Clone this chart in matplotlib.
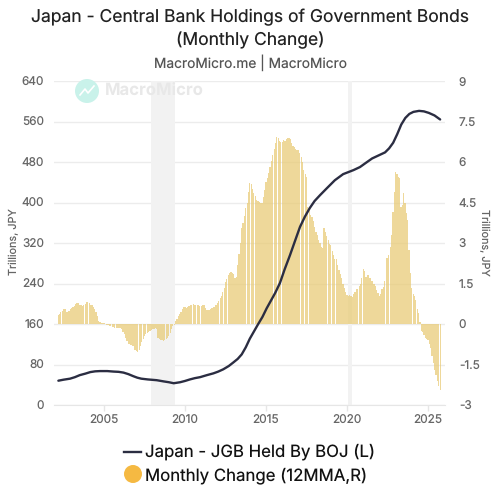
import numpy as np
import matplotlib
matplotlib.use("Agg")
import matplotlib.pyplot as plt
from matplotlib.lines import Line2D
from matplotlib.patches import Circle

plt.rcParams['font.family'] = ['Inter', 'DejaVu Sans']
plt.rcParams['text.hinting'] = 'no_hinting'
plt.rcParams['text.hinting_factor'] = 1

TITLE = "Japan - Central Bank Holdings of Government Bonds\n(Monthly Change)"
SUBTITLE = "MacroMicro.me | MacroMicro"
LEFT_TICKS = [0, 80, 160, 240, 320, 400, 480, 560, 640]
RIGHT_TICKS = [-3, -1.5, 0, 1.5, 3, 4.5, 6, 7.5, 9]
RIGHT_LABELS = ["-3", "-1.5", "0", "1.5", "3", "4.5", "6", "7.5", "9"]
YEAR_TICKS = [2005, 2010, 2015, 2020, 2025]
SHADED_PERIODS = [(2007.9, 2009.4), (2020.08, 2020.3)]

# Monthly change, 12-month average, trillions of yen: March 2002 to October 2025
change_by_year = [
    [.33, .38, .45, .5, .55, .55, .45, .45, .5, .55],
    [.58, .62, .68, .75, .78, .77, .72, .7, .68, .72, .75, .8],
    [.82, .78, .72, .7, .62, .55, .45, .3, .12, .08, .05, .04],
    [.02, -.01, -.03, -.03, -.06, -.08, -.1, -.12, -.13, -.13, -.15, -.16],
    [-.15, -.2, -.3, -.38, -.5, -.62, -.75, -.75, -.78, -.8, -.82, -.95],
    [-1.0, -1.02, -.95, -.8, -.65, -.55, -.45, -.38, -.32, -.28, -.25, -.22],
    [-.2, -.18, -.15, -.17, -.5, -.55, -.6, -.6, -.62, -.6, -.55, -.5],
    [-.45, -.35, -.2, -.08, -.02, .1, .2, .3, .38, .45, .55, .62],
    [.62, .6, .62, .65, .72, .72, .73, .72, .72, .7, .7, .68],
    [.68, .7, .72, .6, .52, .52, .52, .55, .58, .62, .64, .7],
    [.78, .85, .95, 1.05, 1.2, 1.35, 1.55, 1.68, 1.8, 1.9, 1.92, 1.9],
    [1.85, 1.7, 1.75, 2.2, 2.6, 3.0, 3.55, 3.75, 4.0, 4.3, 4.5, 4.9],
    [5.23, 5.2, 5.0, 4.85, 4.75, 4.6, 4.55, 4.53, 4.5, 4.5, 4.7, 4.95],
    [5.25, 5.4, 5.6, 5.8, 6.05, 6.25, 6.5, 6.7, 6.94, 6.88, 6.78, 6.75],
    [6.75, 6.8, 6.78, 6.85, 6.88, 6.88, 6.85, 6.7, 6.6, 6.55, 6.5, 6.45],
    [6.44, 6.35, 6.2, 6.0, 5.7, 5.55, 5.45, 4.35, 4.2, 4.05, 3.95, 3.8],
    [3.6, 3.42, 3.3, 3.1, 3.0, 2.85, 2.8, 3.54, 3.4, 3.25, 3.1, 2.95],
    [2.93, 2.7, 2.55, 2.4, 2.4, 2.2, 2.0, 1.85, 1.7, 1.5, 1.35, 1.2],
    [1.07, 1.05, 1.07, 1.05, 1.0, 1.1, 1.2, 1.28, 1.3, 1.4, 1.5, 1.7],
    [2.05, 1.95, 1.75, 1.8, 1.8, 1.7, 1.6, 1.6, 1.5, 1.4, 1.25, 1.15],
    [1.05, 1.1, 1.3, 1.38, 1.6, 2.45, 2.45, 2.55, 2.85, 3.3, 4.16, 4.9],
    [5.64, 5.55, 5.45, 5.4, 4.35, 4.4, 4.84, 4.5, 4.1, 3.85, 2.75, 1.9],
    [1.35, 1.1, 1.05, .9, .55, .4, .09, -.25, -.3, -.4, -.5, -.55],
    [-.6, -.75, -.9, -1.2, -1.46, -1.7, -1.9, -2.1, -2.3, -2.44],
]
change_values = [v for year in change_by_year for v in year]
change_dates = [2002 + (2 + i) / 12 for i in range(len(change_values))]

# JGB holdings, trillions of yen
holding_dates = [
    2002.18, 2002.5, 2002.9, 2003.2, 2003.5, 2003.85, 2004.15, 2004.45, 2004.75,
    2005.2, 2005.6, 2005.9, 2006.2, 2006.5, 2006.8, 2007.05, 2007.3, 2007.7,
    2008.25, 2008.7, 2009.0, 2009.3, 2009.7, 2010.0, 2010.3, 2010.6, 2010.93,
    2011.35, 2011.75, 2012.05, 2012.36, 2012.7, 2012.98, 2013.25, 2013.5, 2013.75,
    2014.0, 2014.25, 2014.5, 2014.78, 2015.04, 2015.3, 2015.56, 2015.86, 2016.15,
    2016.48, 2016.8, 2017.1, 2017.4, 2017.7, 2018.0, 2018.35, 2018.75, 2019.25,
    2019.76, 2020.0, 2020.4, 2020.8, 2021.15, 2021.55, 2021.95,
    2022.35, 2022.6, 2022.85, 2023.1, 2023.35, 2023.6, 2023.85, 2024.1, 2024.45,
    2024.75, 2025.05, 2025.4, 2025.75,
]
holding_values = [
    48, 50, 52, 55, 59, 62, 65, 66.5, 67,
    67, 66, 65.5, 64, 61, 57, 54, 52, 50.5,
    49, 46.5, 45, 43, 45, 47.5, 50.5, 53, 55,
    59, 62.5, 66, 70.5, 77, 84, 91, 100, 114,
    131, 145, 159, 174, 191, 206, 221, 241, 268,
    296, 325, 352, 372, 389, 403, 415, 428, 444,
    456, 459, 464, 470, 478, 487, 493,
    499, 507, 518, 535, 554, 567, 575, 579, 581,
    580, 577, 572, 564,
]

fig = plt.figure(figsize=(5, 5), dpi=100, facecolor="white")
ax2 = fig.add_axes([54 / 500, 1 - 405 / 500, 391 / 500, 324 / 500])
ax = ax2.twinx()

# Right-hand scale: shaded periods, gridlines and the change bars sit underneath
ax2.set_axisbelow(True)
for start, end in SHADED_PERIODS:
    ax2.axvspan(start, end, color="#f2f2f2", lw=0, zorder=1)
ax2.set_xlim(2001.91, 2026.05)
ax2.set_xticks(YEAR_TICKS)
ax2.set_ylim(-3, 9)
ax2.set_yticks(RIGHT_TICKS)
ax2.set_yticklabels(RIGHT_LABELS)
ax2.yaxis.tick_right()
ax2.yaxis.grid(True, color="#ececec", lw=1, zorder=2)
ax2.tick_params(axis="y", length=0, labelsize=8.5, labelcolor="#666666", pad=10)
ax2.tick_params(axis="x", length=4, width=1, color="#e6e6e6", labelsize=8.5,
                labelcolor="#666666", pad=3)
for side in ("top", "left", "right"):
    ax2.spines[side].set_visible(False)
ax2.spines["bottom"].set_color("#e6e6e6")
ax2.bar(change_dates, change_values, width=0.9 / 12, color="#e8ca73", alpha=0.72,
        lw=0, zorder=3)

# Left-hand scale: holdings line on top
ax.yaxis.tick_left()
ax.set_ylim(0, 640)
ax.set_yticks(LEFT_TICKS)
ax.tick_params(axis="y", length=0, labelsize=8.5, labelcolor="#666666", pad=7)
for side in ax.spines:
    ax.spines[side].set_visible(False)
ax.patch.set_alpha(0)
ax.plot(holding_dates, holding_values, color="#2b2d42", lw=1.7, zorder=5,
        solid_capstyle="round", solid_joinstyle="round")

fig.text(0.5, 1 - 17 / 500, TITLE.split("\n")[0], ha="center", va="center",
         fontsize=12.6, color="#222222")
fig.text(0.5, 1 - 40 / 500, TITLE.split("\n")[1], ha="center", va="center",
         fontsize=12.6, color="#222222")
fig.text(0.5, 1 - 63 / 500, SUBTITLE, ha="center", va="center", fontsize=9.9,
         color="#555555")
fig.text(14 / 500, 1 - 242 / 500, "Trillions, JPY", rotation=90, ha="center",
         va="center", fontsize=7.8, color="#666666")
fig.text(484 / 500, 1 - 242 / 500, "Trillions, JPY", rotation=270, ha="center",
         va="center", fontsize=7.8, color="#666666")

# Brand mark in the upper left of the plot
fig.add_artist(Circle((87 / 500, 1 - 91 / 500), 12 / 500, color="#c9f2ea", lw=0,
                      transform=fig.transFigure))
fig.add_artist(Line2D([80 / 500, 85 / 500, 88 / 500, 94 / 500],
                      [1 - 95 / 500, 1 - 89 / 500, 1 - 93 / 500, 1 - 86 / 500],
                      color="white", lw=1.2, transform=fig.transFigure))
fig.text(105 / 500, 1 - 91 / 500, "MacroMicro", ha="left", va="center", fontsize=12,
         fontweight="bold", color="#e8e8e8")

fig.add_artist(Line2D([124 / 500, 141 / 500], [1 - 452 / 500] * 2, color="#2b2d42",
                      lw=1.7, transform=fig.transFigure))
fig.add_artist(Circle((133 / 500, 1 - 474 / 500), 9 / 500, color="#f5b942", lw=0,
                      transform=fig.transFigure))
fig.text(145 / 500, 1 - 452 / 500, "Japan - JGB Held By BOJ (L)", ha="left",
         va="center", fontsize=12.1, color="#111111")
fig.text(145 / 500, 1 - 476 / 500, "Monthly Change (12MMA,R)", ha="left",
         va="center", fontsize=12.1, color="#111111")

fig.savefig("out.png", dpi=100)
